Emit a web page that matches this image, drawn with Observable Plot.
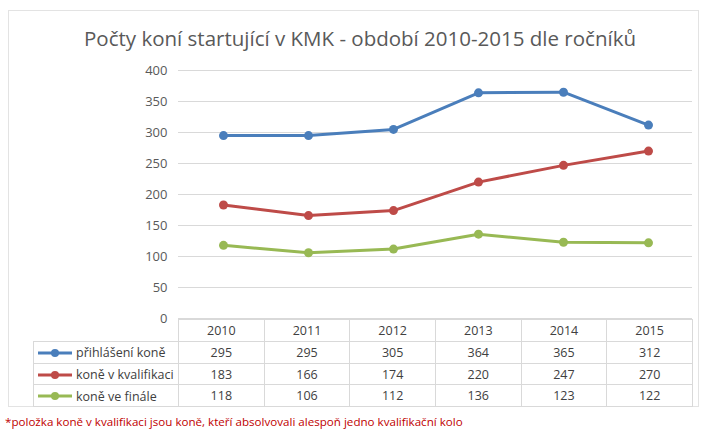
<!DOCTYPE html>
<html><head><meta charset="utf-8">
<script src="https://cdn.jsdelivr.net/npm/d3@7"></script>
<script src="https://cdn.jsdelivr.net/npm/@observablehq/plot@0.6"></script>
<style>
body{margin:0;background:#fff;width:705px;height:433px;position:relative;overflow:hidden;font-family:"Open Sans",sans-serif;}
#frame{position:absolute;left:8px;top:10px;width:691px;height:397px;border:1px solid #e3e3e3;box-sizing:border-box;}
#title{position:absolute;left:0;top:24px;width:720px;text-align:center;font-size:20.5px;color:#595959;white-space:nowrap;}
#chart{position:absolute;left:0;top:0;}
#tbl{position:absolute;left:33px;top:319px;border-collapse:collapse;font-size:12.5px;color:#404040;table-layout:fixed;}
#tbl td{border:1px solid #d9d9d9;height:20.7px;padding:0;text-align:center;}
#tbl td.lab{text-align:left;white-space:nowrap;}
#tbl td.blank{border:none;}
#note{position:absolute;left:5px;top:414px;font-size:11.6px;color:#C00000;white-space:nowrap;}
</style></head>
<body>
<div id="frame"></div>
<div id="title">Počty koní startující v KMK - období 2010-2015 dle ročníků</div>
<div id="chart"></div>
<table id="tbl"></table>
<div id="note">*položka koně v kvalifikaci jsou koně, kteří absolvovali alespoň jedno kvalifikační kolo</div>
<script>
const years = ["2010","2011","2012","2013","2014","2015"];
const seriesNames = ["přihlášení koně","koně v kvalifikaci","koně ve finále"];
const prihlaseni = [295,295,305,364,365,312];
const kvalifikace = [183,166,174,220,247,270];
const finale = [118,106,112,136,123,122];
const colors = ["#4A7EBB","#BE4B48","#98B954"];
const yTicks = [0,50,100,150,200,250,300,350,400];

const seriesValues = [prihlaseni, kvalifikace, finale];
const data = seriesNames.flatMap((s,i)=>years.map((y,j)=>({series:s, year:y, value:seriesValues[i][j]})));

const chart = Plot.plot({
  width:705, height:332,
  marginLeft:178, marginRight:13, marginTop:70, marginBottom:14,
  style:{fontFamily:"Open Sans, sans-serif", fontSize:"13px", color:"#595959", background:"transparent"},
  x:{type:"point", domain:years, padding:0.5, axis:null},
  y:{domain:[0,400], label:null},
  color:{domain:seriesNames, range:colors},
  marks:[
    Plot.gridY(yTicks,{stroke:"#d9d9d9", strokeOpacity:1}),
    Plot.axisY(yTicks,{tickSize:0, tickPadding:11, fontSize:13, fill:"#595959", label:null}),
    Plot.line(data,{x:"year", y:"value", stroke:"series", z:"series", strokeWidth:3}),
    Plot.dot(data,{x:"year", y:"value", fill:"series", r:4.5})
  ]
});
document.getElementById("chart").appendChild(chart);

// table
const tbl = document.getElementById("tbl");
const colg = document.createElement("colgroup");
const c0 = document.createElement("col"); c0.style.width="145px"; colg.appendChild(c0);
years.forEach(()=>{const c=document.createElement("col"); c.style.width=(514/6)+"px"; colg.appendChild(c);});
tbl.appendChild(colg);
const hr = document.createElement("tr");
const b = document.createElement("td"); b.className="blank"; hr.appendChild(b);
years.forEach(y=>{const td=document.createElement("td"); td.textContent=y; hr.appendChild(td);});
hr.children[1].style.height="21px";
tbl.appendChild(hr);
seriesNames.forEach((s,i)=>{
  const tr=document.createElement("tr");
  const lab=document.createElement("td"); lab.className="lab";
  lab.innerHTML=`<svg width="36" height="10" style="vertical-align:middle;margin-left:4px;margin-right:2px"><line x1="0" y1="5" x2="34" y2="5" stroke="${colors[i]}" stroke-width="3"/><circle cx="17" cy="5" r="4" fill="${colors[i]}"/></svg>`;
  const sp=document.createElement("span"); sp.textContent=s; sp.style.verticalAlign="middle"; lab.appendChild(sp);
  tr.appendChild(lab);
  seriesValues[i].forEach(v=>{const td=document.createElement("td"); td.textContent=v; tr.appendChild(td);});
  tbl.appendChild(tr);
});
</script>
</body></html>
